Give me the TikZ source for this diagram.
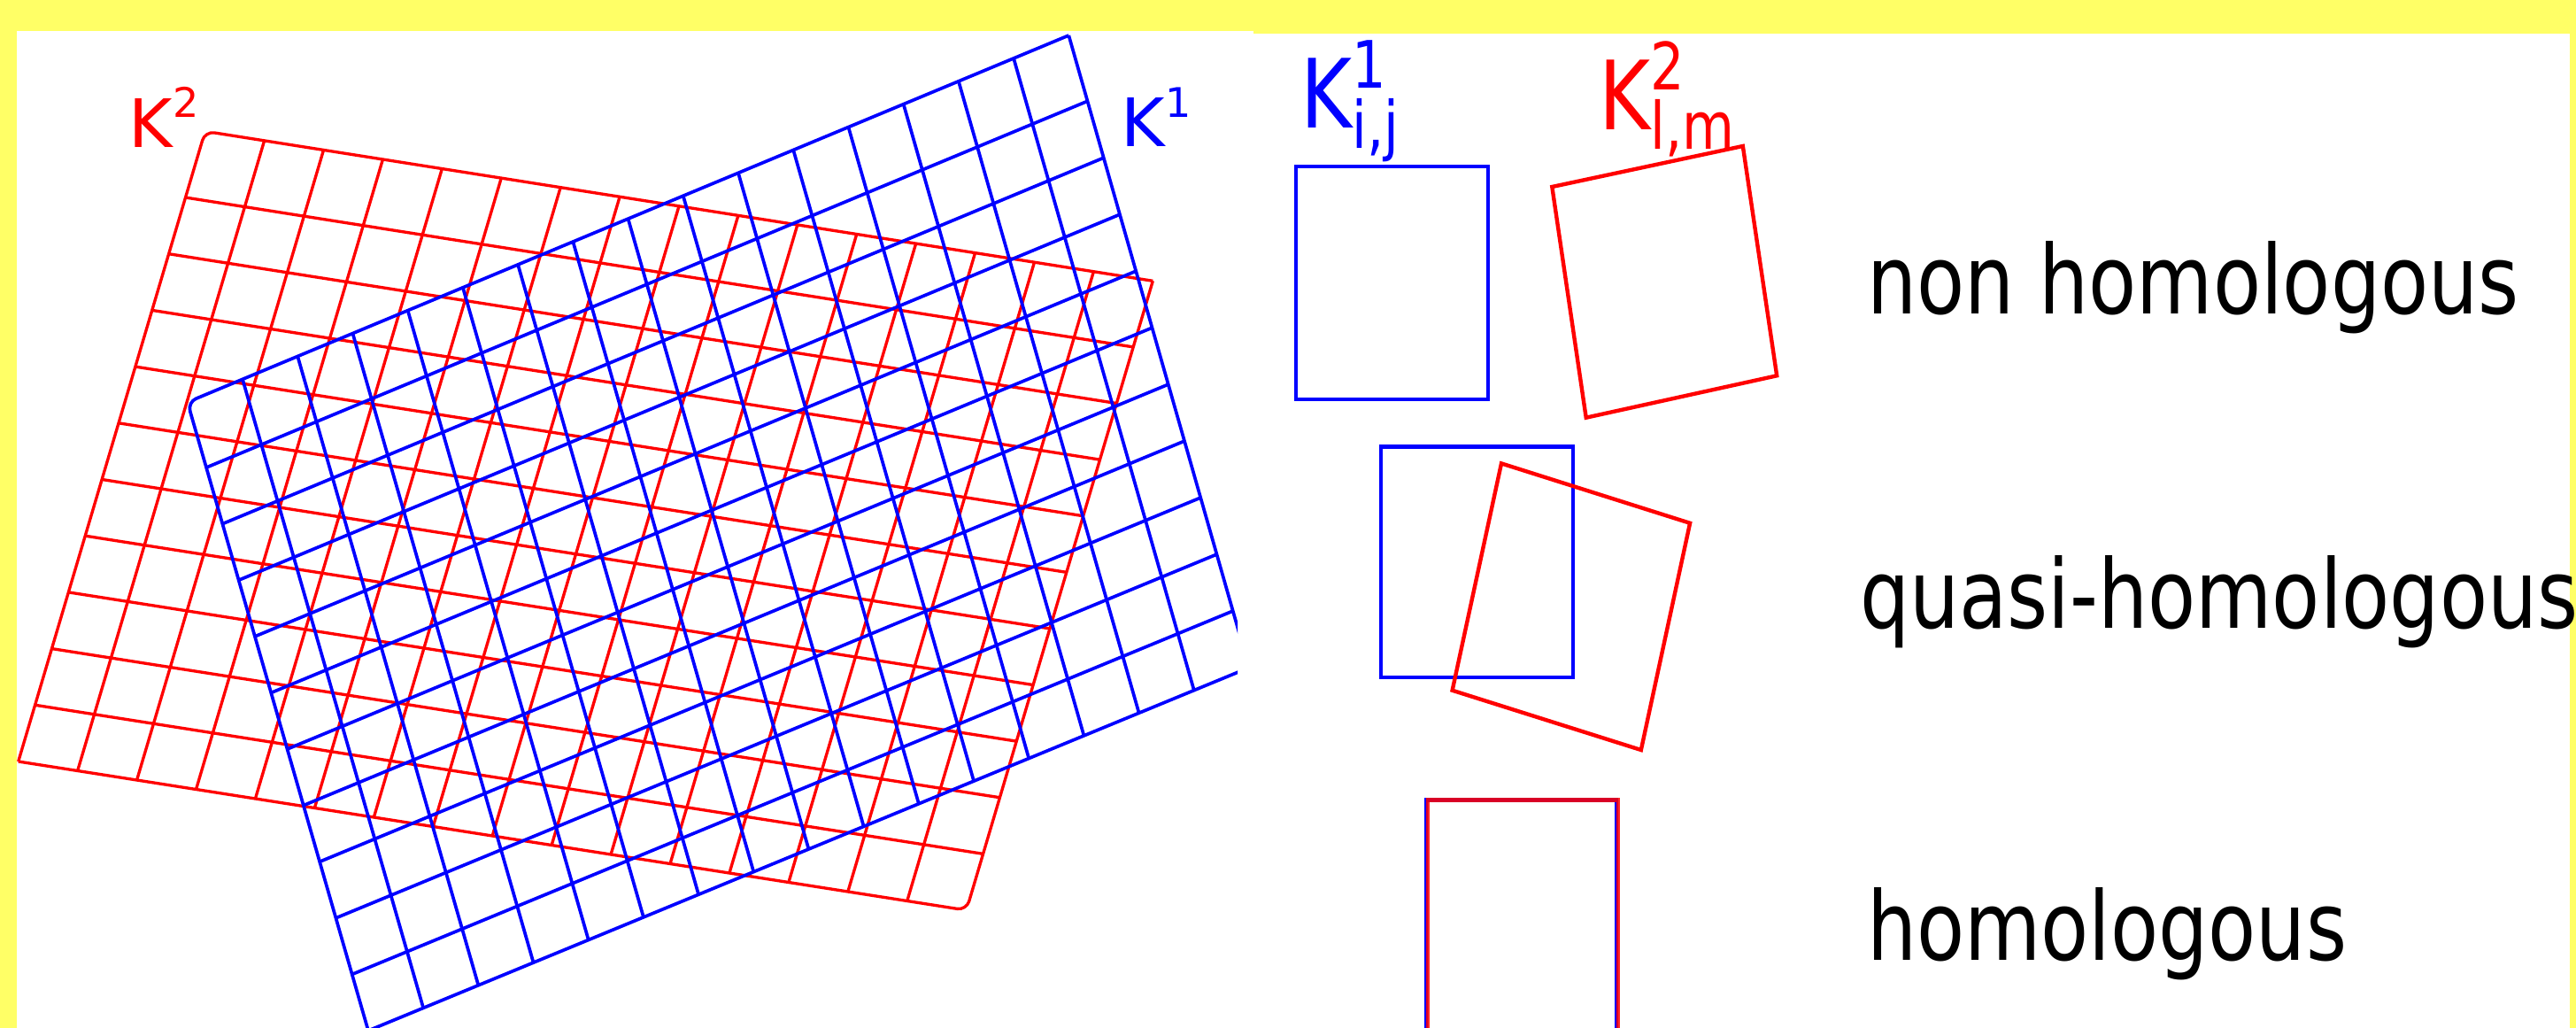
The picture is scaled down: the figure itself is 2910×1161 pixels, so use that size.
\documentclass[tikz,border=0pt]{standalone}
\usepackage{fontspec}
\newfontfamily\labfont{DejaVu Sans}
\newfontfamily\condfont[FakeStretch=0.82]{DejaVu Sans}
\usetikzlibrary{calc}
\definecolor{bgyellow}{RGB}{255,255,102}
\definecolor{kblue}{RGB}{0,0,255}
\definecolor{kred}{RGB}{255,0,0}
\begin{document}
\begin{tikzpicture}[x=0.01cm,y=-0.01cm,
  redgrid/.style={draw=kred, line width=0.95pt},
  bluegrid/.style={draw=kblue, line width=1.05pt},
  cellbox/.style={line width=1.25pt},
  caption/.style={anchor=base west, inner sep=0pt, outer sep=0pt, font=\fontsize{30.7}{36}\selectfont\condfont},
  gridlabel/.style={anchor=base west, inner sep=0pt, outer sep=0pt, font=\fontsize{21.45}{24}\selectfont\labfont},
  celllabel/.style={anchor=base west, inner sep=0pt, outer sep=0pt, font=\fontsize{30.7}{36}\selectfont\condfont}]

\useasboundingbox (0,0) rectangle (2910,1161);
\fill[bgyellow] (0,0) rectangle (2910,1161);
\fill[white] (19,35) rectangle (1416,1161);
\fill[white] (1416,38) rectangle (2903,1161);

% ---- red grid K^2
\coordinate (rA) at (231.7,148.3);
\coordinate (rB) at (1302.3,317.3);
\coordinate (rC) at (1091.7,1028);
\coordinate (rD) at (20.7,860);
\foreach \i [evaluate=\i as \f using \i/16] in {1,...,15}
  \draw[redgrid] ($(rA)!\f!(rB)$) -- ($(rD)!\f!(rC)$);
\foreach \j [evaluate=\j as \f using 0.105+(\j-1)*0.0895] in {1,...,10}
  \draw[redgrid] ($(rA)!\f!(rD)$) -- ($(rB)!\f!(rC)$);
\draw[redgrid, rounded corners=3pt] (rD) -- (rA) -- (rB);
\draw[redgrid, rounded corners=3pt] (rB) -- (rC) -- (rD);

% ---- blue grid K^1
\coordinate (bA) at (211.8,454.2);
\coordinate (bB) at (1207.3,40);
\coordinate (bC) at (1411,754);
\coordinate (bD) at (416,1164);
\begin{scope}
\clip (19,35) rectangle (1398,1161);
\foreach \i [evaluate=\i as \f using \i/16] in {1,...,15}
  \draw[bluegrid] ($(bA)!\f!(bB)$) -- ($(bD)!\f!(bC)$);
\foreach \j [evaluate=\j as \f using 0.104+(\j-1)*0.0896] in {1,...,10}
  \draw[bluegrid] ($(bA)!\f!(bD)$) -- ($(bB)!\f!(bC)$);
\draw[bluegrid, rounded corners=3pt] (bD) -- (bA) -- (bB);
\draw[bluegrid] (bB) -- (bC) -- (bD);
\end{scope}

% ---- grid labels
\node[gridlabel, text=kred] (lblK2) at (145.6,167) {K\raisebox{9.7pt}{\fontsize{13.1}{15}\selectfont 2}};
\node[gridlabel, text=kblue] (lblK1) at (1266.6,166) {K\raisebox{9.4pt}{\fontsize{13.1}{15}\selectfont 1}};

% ---- cell labels
\node[celllabel, text=kblue] (lblKij) at (1469.8,145) {K\rlap{\raisebox{12.8pt}{\fontsize{21}{24}\selectfont 1}}\raisebox{-6.5pt}{\fontsize{21}{24}\selectfont i,j}};
\node[celllabel, text=kred] (lblKlm) at (1806.3,147) {K\rlap{\raisebox{12.8pt}{\fontsize{21}{24}\selectfont 2}}\raisebox{-6pt}{\fontsize{21}{24}\selectfont l,m}};

% ---- cells
\draw[kblue, cellbox] (1464,188) rectangle (1681,451);
\draw[kred, cellbox] (1753.3,211) -- (1968.8,165) -- (2007.2,424.3) -- (1791.7,471.7) -- cycle;
\draw[kblue, cellbox] (1560,504.5) rectangle (1777,765);
\draw[kred, cellbox] (1696,523.4) -- (1909.1,590.8) -- (1853.8,847) -- (1640.6,779.7) -- cycle;
\draw[kblue, cellbox] (1611,1163) -- (1611,903.5) -- (1826,903.5) -- (1826,1163);
\draw[kred, cellbox, opacity=0.85] (1613,1163) -- (1613,903.5) -- (1828,903.5) -- (1828,1163);

% ---- captions
\node[caption] (capNon) at (2109,355) {non homologous};
\node[caption] (capQuasi) at (2101,709) {quasi-homologous};
\node[caption] (capHom) at (2109,1084) {homologous};
\end{tikzpicture}
\end{document}
